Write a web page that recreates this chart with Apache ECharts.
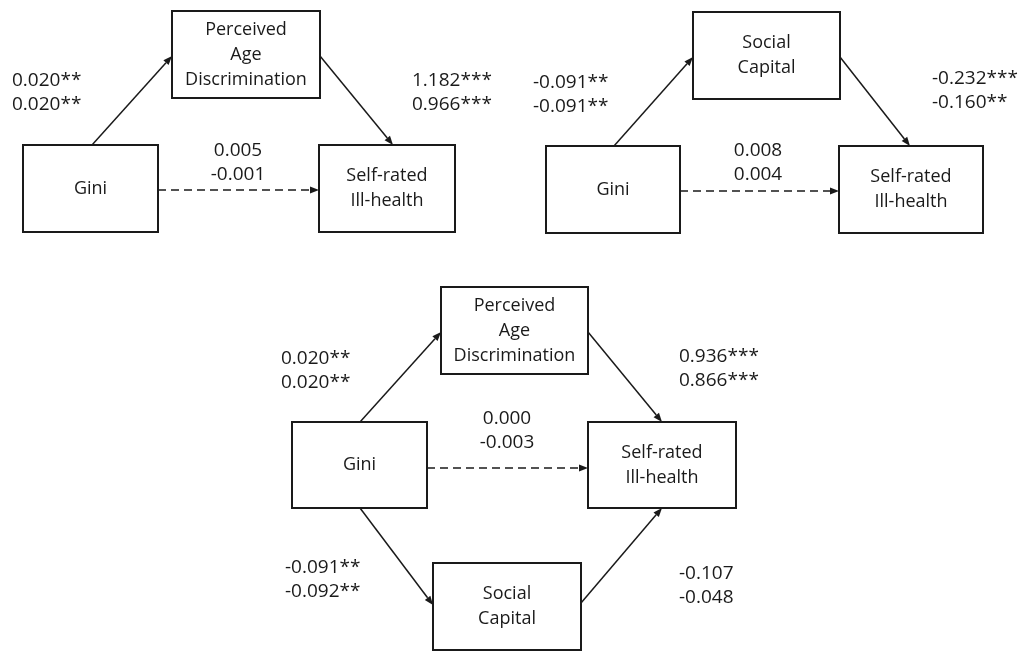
<!DOCTYPE html>
<html>
<head>
<meta charset="utf-8">
<script src="https://cdn.jsdelivr.net/npm/echarts@6/dist/echarts.min.js"></script>
<style>
    html, body { margin: 0; padding: 0; background: #fff; }
    #main { width: 1030px; height: 651px; }
</style>
</head>
<body>
<div id="main"></div>
<script>
// node names
const nodeGini = 'Gini';
const nodePad = 'Perceived\nAge\nDiscrimination';
const nodeSc = 'Social\nCapital';
const nodeSrh = 'Self-rated\nIll-health';

// path coefficients (model 1 / model 2)
const panel1Coefs = [['0.020**', '0.020**'], ['1.182***', '0.966***'], ['0.005', '-0.001']];
const panel2Coefs = [['-0.091**', '-0.091**'], ['-0.232***', '-0.160**'], ['0.008', '0.004']];
const panel3Coefs = [['0.020**', '0.020**'], ['0.936***', '0.866***'], ['0.000', '-0.003'],
                     ['-0.091**', '-0.092**'], ['-0.107', '-0.048']];

// layout of the diagram (page units, axes run 0-1030 / 0-651)
const boxes = [
    { text: nodePad, rect: [172, 11, 320, 98] },
    { text: nodeGini, rect: [23, 145, 158, 232] },
    { text: nodeSrh, rect: [319, 145, 455, 232] },
    { text: nodeSc, rect: [693, 12, 840, 99] },
    { text: nodeGini, rect: [546, 146, 680, 233] },
    { text: nodeSrh, rect: [839, 146, 983, 233] },
    { text: nodePad, rect: [441, 287, 588, 374] },
    { text: nodeGini, rect: [292, 422, 427, 508] },
    { text: nodeSrh, rect: [588, 422, 736, 508] },
    { text: nodeSc, rect: [433, 563, 581, 650] }
];
const arrows = [
    [92, 145, 172, 56, 0], [320, 56, 393, 145, 0], [158, 190, 319, 190, 1],
    [614, 146, 693, 57, 0], [840, 57, 910, 146, 0], [680, 191, 839, 191, 1],
    [360, 422, 441, 332, 0], [588, 332, 662, 422, 0], [427, 468, 588, 468, 1],
    [360, 508, 433, 605, 0], [581, 603, 662, 508, 0]
];
const coefLabels = [
    { c: panel1Coefs[0], pos: [12, 93], align: 'left' },
    { c: panel1Coefs[1], pos: [412, 93], align: 'left' },
    { c: panel1Coefs[2], pos: [238, 163], align: 'center' },
    { c: panel2Coefs[0], pos: [533, 95], align: 'left' },
    { c: panel2Coefs[1], pos: [932, 91], align: 'left' },
    { c: panel2Coefs[2], pos: [758, 163], align: 'center' },
    { c: panel3Coefs[0], pos: [281, 371], align: 'left' },
    { c: panel3Coefs[1], pos: [679, 369], align: 'left' },
    { c: panel3Coefs[2], pos: [507, 431], align: 'center' },
    { c: panel3Coefs[3], pos: [285, 580], align: 'left' },
    { c: panel3Coefs[4], pos: [679, 586], align: 'left' }
];

const ink = '#1a1a1a';
const font = '"Open Sans", sans-serif';

const chart = echarts.init(document.getElementById('main'), null, { renderer: 'canvas' });

const option = {
    animation: false,
    grid: { left: 0, right: 0, top: 0, bottom: 0 },
    xAxis: { type: 'value', min: 0, max: 1030, show: false },
    yAxis: { type: 'value', min: 0, max: 651, inverse: true, show: false },
    series: [
        {
            // arrows
            type: 'custom',
            data: arrows,
            renderItem: (params, api) => {
                const a = arrows[params.dataIndex];
                const p1 = api.coord([a[0], a[1]]);
                const p2 = api.coord([a[2], a[3]]);
                const dx = p2[0] - p1[0], dy = p2[1] - p1[1];
                const len = Math.sqrt(dx * dx + dy * dy);
                const ux = dx / len, uy = dy / len;
                const bx = p2[0] - ux * 9, by = p2[1] - uy * 9;
                return {
                    type: 'group',
                    children: [
                        {
                            type: 'line',
                            shape: { x1: p1[0], y1: p1[1], x2: bx, y2: by },
                            style: { stroke: ink, lineWidth: 1.5, lineDash: a[4] ? [8, 5] : null }
                        },
                        {
                            type: 'polygon',
                            shape: { points: [[p2[0], p2[1]], [bx - uy * 3.5, by + ux * 3.5], [bx + uy * 3.5, by - ux * 3.5]] },
                            style: { fill: ink }
                        }
                    ]
                };
            }
        },
        {
            // boxes
            type: 'custom',
            data: boxes.map(b => b.rect),
            renderItem: (params, api) => {
                const b = boxes[params.dataIndex];
                const p1 = api.coord([b.rect[0], b.rect[1]]);
                const p2 = api.coord([b.rect[2], b.rect[3]]);
                return {
                    type: 'group',
                    children: [
                        {
                            type: 'rect',
                            shape: { x: p1[0], y: p1[1], width: p2[0] - p1[0], height: p2[1] - p1[1] },
                            style: { fill: '#fff', stroke: ink, lineWidth: 2 }
                        },
                        {
                            type: 'text',
                            style: {
                                text: b.text, x: (p1[0] + p2[0]) / 2, y: (p1[1] + p2[1]) / 2,
                                align: 'center', verticalAlign: 'middle',
                                fill: ink, fontSize: 18, fontFamily: font, lineHeight: 25
                            }
                        }
                    ]
                };
            }
        },
        {
            // coefficient labels
            type: 'custom',
            data: coefLabels.map(l => l.pos),
            renderItem: (params, api) => {
                const l = coefLabels[params.dataIndex];
                const p = api.coord(l.pos);
                return {
                    type: 'text',
                    style: {
                        text: l.c.join('\n'), x: p[0], y: p[1],
                        align: l.align, verticalAlign: 'middle',
                        fill: ink, fontSize: 19, fontFamily: font, lineHeight: 24
                    }
                };
            }
        }
    ]
};

chart.setOption(option);
</script>
</body>
</html>
